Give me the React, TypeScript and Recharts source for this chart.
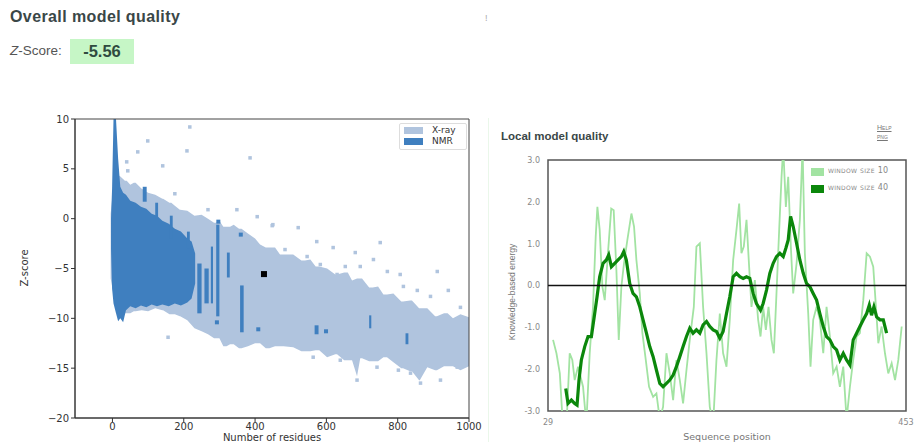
import {
  Area,
  ComposedChart,
  Line,
  ReferenceArea,
  ReferenceLine,
  Scatter,
  XAxis,
  YAxis,
} from 'recharts';

// ---- Z-score plot (left) ----
// X-ray cloud envelope: residues, lower and upper Z-score
const xrayX = [-5, 5, 20, 35, 50, 65, 82, 100, 120, 140, 160, 175, 190, 210, 230, 250, 268, 285, 300, 320, 340, 362, 380, 400, 414, 430, 456, 480, 507, 530, 555, 580, 602, 625, 650, 672, 695, 720, 745, 770, 788, 810, 835, 860, 883, 905, 930, 955, 976, 1000];
const xrayHigh = [0.5, 4.0, 4.3, 3.8, 3.4, 3.6, 3.0, 2.6, 2.4, 2.0, 1.6, 1.3, 0.9, 0.8, 0.3, 0.4, 0.0, -0.4, -0.2, -0.8, -0.6, -1.0, -1.5, -2.0, -2.6, -2.9, -2.9, -3.6, -3.6, -4.2, -4.1, -4.8, -5.0, -5.6, -5.4, -6.2, -6.0, -6.9, -6.8, -7.6, -7.5, -8.3, -8.2, -9.0, -9.0, -9.8, -9.5, -10.0, -9.6, -9.9];
const xrayLowX = [-5, 5, 20, 40, 60, 82, 100, 120, 142, 165, 189, 210, 230, 250, 268, 290, 311, 330, 355, 380, 414, 440, 470, 507, 540, 570, 602, 630, 660, 686, 700, 730, 760, 788, 815, 840, 862, 883, 910, 940, 976, 1000];
const xrayLow = [-6, -8, -9.3, -9.5, -9.3, -9.2, -9.3, -9.0, -9.2, -9.6, -9.8, -10.2, -11.0, -11.3, -11.6, -12.0, -12.8, -12.6, -13.0, -12.8, -12.5, -13.0, -12.8, -12.9, -13.3, -13.2, -13.9, -13.6, -14.2, -15.8, -14.0, -14.3, -13.9, -14.4, -15.0, -15.3, -16.2, -14.9, -15.2, -14.8, -15.2, -14.8];

// NMR dense region envelope
const nmrX = [-4, -1, 3, 10, 16, 22, 30, 38, 50, 65, 80, 95, 110, 125, 140, 158, 175, 192, 210, 222, 232];
const nmrLow = [-3, -7, -8.5, -9.5, -10.3, -10.0, -10.4, -9.2, -8.8, -9.0, -8.7, -8.9, -8.6, -8.8, -8.6, -8.8, -8.5, -8.7, -8.4, -8.0, -6.5];
const nmrHigh = [0, 3, 10, 10, 6, 3.2, 2.6, 2.4, 1.8, 1.6, 1.2, 1.0, 0.5, 0.3, -0.2, -0.5, -1.0, -1.3, -2.0, -2.3, -3.5];

// NMR vertical stripes
const stripeStart = [85, 120, 161, 209, 238, 258, 276, 291, 321, 358, 567, 720, 822];
const stripeEnd = [96, 128, 169, 217, 250, 270, 282, 300, 329, 368, 578, 726, 830];
const stripeLow = [1.7, 0, -2, -3, -9.5, -8.5, -8.5, -9.8, -5.9, -11.4, -11.6, -11.0, -12.6];
const stripeHigh = [3.2, 1.6, 0.3, -1.3, -4.5, -5.0, -2.8, -0.6, -3.4, -6.7, -10.7, -9.7, -11.5];

// scattered single structures
const xrayDotX = [217, 99, 209, 386, 71, 40, 141, 43, 175, 268, 349, 406, 448, 156, 450, 521, 751, 573, 619, 681, 732, 695, 653, 911, 942, 976, 892, 807, 771, 816, 855, 630, 583, 546, 484, 686, 920, 836, 864, 802, 742, 967, 639, 563, 855];
const xrayDotY = [9.2, 7.8, 6.8, 6.1, 6.7, 5.7, 5.3, 4.8, 2.5, 0.9, 0.9, 0.2, -0.7, -11.9, -0.6, -0.9, -2.4, -2.3, -2.9, -3.4, -4.1, -4.8, -4.8, -5.3, -7.2, -8.9, -7.8, -5.6, -5.3, -6.8, -7.2, -5.6, -4.6, -3.8, -3.1, -16.2, -16.2, -15.5, -16.5, -15.2, -14.9, -14.9, -14.2, -13.9, -14.5];
const nmrDotX = [297, 360, 293, 409, 599];
const nmrDotY = [-0.3, -1.6, -10.4, -11.1, -11.3];

const modelResidues = 425;
const modelZScore = -5.56;

const zTicksX = [0, 200, 400, 600, 800, 1000];
const zTicksY = [-20, -15, -10, -5, 0, 5, 10];

// ---- Local model quality (right) ----
const win40X = [50, 52.7, 56.7, 60.6, 63.4, 65.7, 68.5, 72.5, 76.4, 80.4, 84.3, 87.1, 90.2, 94.2, 98.1, 100.9, 104.1, 108, 112, 115.9, 118.7, 121.8, 125.8, 129.7, 133.7, 137.7, 141.6, 145.6, 149.5, 153.5, 157.4, 161.4, 165.3, 169.3, 173.2, 177.2, 181.1, 185.1, 189, 193, 196.9, 200.8, 204.8, 208.8, 212.7, 216.7, 220.6, 224.6, 228.5, 232.5, 236.4, 240.4, 244.3, 248.3, 252.2, 256.2, 260.1, 264.1, 268, 272, 275.9, 280.7, 283.8, 287.8, 291.7, 295.7, 299.6, 303.6, 307.6, 310.7, 313.5, 316.3, 319.4, 323.4, 327.3, 331.3, 335.2, 339.2, 343.1, 347.1, 351, 355, 358.9, 362.9, 366.8, 370.8, 374.7, 378.7, 382.6, 386.6, 390.5, 394.5, 398.4, 402.4, 406.4, 409.5, 412.2, 415, 418.2, 422.1, 426.1, 430];
const win40Y = [-2.46, -2.82, -2.74, -2.82, -2.86, -2.26, -1.78, -1.46, -1.22, -1.22, -0.67, -0.27, 0.21, 0.53, 0.61, 0.73, 0.45, 0.53, 0.61, 0.69, 0.81, 0.61, 0.05, -0.19, -0.27, -0.51, -0.82, -1.14, -1.46, -1.7, -2.02, -2.34, -2.42, -2.34, -2.26, -2.14, -1.94, -1.7, -1.46, -1.22, -1.02, -1.14, -1.06, -1.14, -0.94, -0.86, -0.98, -1.06, -1.1, -1.26, -1.1, -0.67, -0.27, 0.21, 0.29, 0.21, 0.17, 0.21, 0.17, -0.19, -0.43, -0.59, -0.43, -0.11, 0.29, 0.53, 0.69, 0.77, 0.69, 0.89, 1.09, 1.65, 1.41, 1.01, 0.61, 0.29, 0.05, -0.03, -0.19, -0.35, -0.67, -0.98, -1.22, -1.3, -1.46, -1.54, -1.78, -1.62, -1.78, -1.9, -1.3, -1.14, -0.98, -0.82, -0.67, -0.47, -0.71, -0.51, -0.75, -0.82, -0.82, -1.14];
const win10X = [35, 39, 43, 46.8, 51.5, 54.7, 57.8, 60.6, 64.6, 70.5, 74.4, 78.4, 82.3, 85.5, 87.5, 90.2, 93.4, 96.2, 100, 103.9, 106.8, 110, 112.8, 115.9, 119, 123, 127.8, 130.9, 133.7, 137.7, 140.8, 144.8, 148.7, 153.5, 157.4, 161.4, 165.3, 169.3, 173.2, 177.2, 181.1, 185.1, 189, 193, 196.9, 201.7, 204.8, 208.8, 212.7, 216.7, 220.6, 224.6, 228.5, 232.5, 236.4, 240.4, 244.3, 248.3, 252.2, 255.4, 258.1, 260.9, 264.1, 267.2, 270, 274, 277.9, 280.7, 283.8, 287, 290.2, 293.7, 296.5, 299.6, 302.8, 305.6, 307.6, 310.7, 313.5, 316.6, 319.4, 323.4, 327.3, 330.5, 333.2, 337.2, 339.9, 343.1, 347.1, 351, 355, 358.9, 362.9, 366.8, 370.8, 374.7, 378.7, 382.6, 386.6, 390.5, 394.5, 398.4, 402.4, 406.4, 410.3, 414.2, 417.4, 420.2, 424.1, 428.1, 432, 436, 440, 443.9, 447.9];
const win10Y = [-1.3, -1.62, -2.1, -3.4, -3.06, -1.62, -1.78, -2.26, -1.94, -2.42, -3.3, -1.62, -0.51, 1.17, 1.88, 1.33, -0.03, -0.35, 0.77, 1.84, 1.8, 0.37, -1.3, -0.03, 0.53, 1.09, 1.72, 1.41, 0.61, -0.19, -1.14, -1.78, -2.42, -2.66, -2.58, -3.2, -2.9, -1.62, -2.1, -2.74, -1.78, -2.26, -2.82, -2.02, -1.3, -0.51, 0.93, 1.01, -0.51, -1.62, -2.9, -3.3, -1.78, -0.67, -1.62, -1.94, -0.82, 0.61, 1.33, 1.96, 0.77, 0.93, 1.57, 0.45, -0.51, 0.13, -0.82, -1.22, -0.51, -1.06, -0.51, -1.3, -1.62, -0.19, 1.33, 2.6, 3.3, 1.88, 2.6, 0.93, -0.19, 0.53, 1.57, 3.3, 0.77, -0.67, -1.94, -0.82, -0.51, -0.82, -1.62, -0.51, -1.22, -2.1, -1.94, -2.42, -1.94, -3.2, -2.42, -1.78, -1.22, -1.14, -0.35, 0.77, 0.69, 0.45, -0.51, -1.38, -0.98, -1.62, -2.1, -1.86, -2.26, -1.78, -0.98];

const seqTicks = [29, 453];
const energyTicks = [-3, -2, -1, 0, 1, 2, 3];

type Row = { x: number; [key: string]: number | [number, number] };

// upper and lower edges of a cloud are read at different residues,
// so each is looked up at the nearest reading on its own side
function edgeAt(xs: number[], ys: number[], x: number): number {
  let best = 0;
  xs.forEach((v, i) => {
    if (Math.abs(v - x) < Math.abs(xs[best] - x)) best = i;
  });
  return ys[best];
}

function buildCloudTable(): Row[] {
  const rows = new Map<number, Row>();
  const put = (x: number, key: string, v: [number, number]) => {
    const row = rows.get(x) ?? { x };
    row[key] = v;
    rows.set(x, row);
  };
  const xrayAll = [...new Set([...xrayX, ...xrayLowX])].sort((a, b) => a - b);
  xrayAll.forEach((x) => put(x, 'xray', [edgeAt(xrayLowX, xrayLow, x), edgeAt(xrayX, xrayHigh, x)]));
  nmrX.forEach((x, i) => put(x, 'nmr', [nmrLow[i], nmrHigh[i]]));
  stripeStart.forEach((x, i) => {
    put(x, `s${i}`, [stripeLow[i], stripeHigh[i]]);
    put(stripeEnd[i], `s${i}`, [stripeLow[i], stripeHigh[i]]);
  });
  return [...rows.values()].sort((a, b) => a.x - b.x);
}

function buildLineTable(): Row[] {
  const rows = new Map<number, Row>();
  const put = (x: number, key: string, v: number) => {
    const row = rows.get(x) ?? { x };
    row[key] = v;
    rows.set(x, row);
  };
  win10X.forEach((x, i) => put(x, 'w10', win10Y[i]));
  win40X.forEach((x, i) => put(x, 'w40', win40Y[i]));
  return [...rows.values()].sort((a, b) => a.x - b.x);
}

const cloudData = buildCloudTable();
const lineData = buildLineTable();
const xrayDots = xrayDotX.map((x, i) => ({ x, y: xrayDotY[i] }));
const nmrDots = nmrDotX.map((x, i) => ({ x, y: nmrDotY[i] }));
const modelDot = [{ x: modelResidues, y: modelZScore }];

const XRAY = '#b0c4de';
const NMR = '#3f7fbf';
const LIGHT_GREEN = '#a2e3a2';
const DARK_GREEN = '#0b870b';

const mplTick = { fontSize: 10, fill: '#333', fontFamily: 'DejaVu Sans' };
const smallTick = { fontSize: 8, fill: '#888', fontFamily: 'DejaVu Sans' };

const square = (color: string, size: number) => (p: any) => (
  <rect x={p.cx - size / 2} y={p.cy - size / 2} width={size} height={size} fill={color} />
);

const minus = (v: number) => String(v).replace('-', '\u2212');

const abs = (left: number, top: number): React.CSSProperties => ({
  position: 'absolute',
  left,
  top,
  whiteSpace: 'nowrap',
});

export default function App() {
  return (
    <div
      style={{
        position: 'absolute',
        left: 0,
        top: 0,
        width: 915,
        height: 442,
        overflow: 'hidden',
        background: '#fff',
        fontFamily: '"Liberation Sans", Arial, sans-serif',
      }}
    >
      <div style={{ ...abs(10, 8), fontSize: 16, fontWeight: 700, color: '#3a4747', letterSpacing: 0.4 }}>
        Overall model quality
      </div>
      <div style={{ ...abs(10, 43), fontSize: 13.5, color: '#555' }}>
        <i>Z</i>-Score:
      </div>
      <div
        style={{
          ...abs(70, 39),
          width: 64,
          height: 25,
          background: '#c6f6c6',
          textAlign: 'center',
          lineHeight: '25px',
          fontSize: 16.5,
          fontWeight: 700,
          color: '#2f4a3f',
        }}
      >
        -5.56
      </div>
      <div style={{ ...abs(485, 13), fontSize: 9, color: '#aaa' }}>!</div>

      {/* left: Z-score plot */}
      <ComposedChart
        width={492}
        height={342}
        data={cloudData}
        margin={{ top: 19, right: 23, bottom: 4, left: 30 }}
        style={{ position: 'absolute', left: 0, top: 100 }}
      >
        <XAxis
          dataKey="x"
          type="number"
          domain={[-105, 1000]}
          ticks={zTicksX}
          allowDataOverflow
          height={20}
          tickSize={4}
          tickMargin={1}
          tick={mplTick}
          stroke="#333"
        />
        <YAxis
          type="number"
          domain={[-20, 10]}
          ticks={zTicksY}
          allowDataOverflow
          width={45}
          tickSize={4}
          tickMargin={2}
          tick={mplTick}
          tickFormatter={minus}
          stroke="#333"
        />
        <Area dataKey="xray" type="linear" stroke="none" fill={XRAY} fillOpacity={1} connectNulls isAnimationActive={false} />
        <Scatter data={xrayDots} dataKey="y" shape={square(XRAY, 3.5)} isAnimationActive={false} />
        <Area dataKey="nmr" type="linear" stroke="none" fill={NMR} fillOpacity={1} connectNulls isAnimationActive={false} />
        {stripeStart.map((_, i) => (
          <Area
            key={i}
            dataKey={`s${i}`}
            type="linear"
            stroke="none"
            fill={NMR}
            fillOpacity={1}
            connectNulls
            isAnimationActive={false}
          />
        ))}
        <Scatter data={nmrDots} dataKey="y" shape={square(NMR, 4)} isAnimationActive={false} />
        <Scatter data={modelDot} dataKey="y" fill="#000" shape={square('#000', 6)} isAnimationActive={false} />
        <ReferenceArea x1={-105} x2={1000} y1={-20} y2={10} fill="none" stroke="#444" strokeWidth={1} />
      </ComposedChart>
      <div
        style={{
          ...abs(24, 268),
          fontSize: 10,
          fontFamily: 'DejaVu Sans',
          color: '#333',
          transform: 'translate(-50%, -50%) rotate(-90deg)',
        }}
      >
        Z-score
      </div>
      <div
        style={{
          ...abs(272, 432),
          fontSize: 10,
          lineHeight: '11px',
          fontFamily: 'DejaVu Sans',
          color: '#333',
          transform: 'translateX(-50%)',
        }}
      >
        Number of residues
      </div>
      <div
        style={{
          ...abs(399, 123),
          width: 66,
          height: 25,
          border: '1px solid #ddd',
          background: 'rgba(255,255,255,0.85)',
          borderRadius: 2,
          fontSize: 9,
          fontFamily: 'DejaVu Sans',
          color: '#333',
        }}
      >
        <div style={{ position: 'absolute', left: 4, top: 3, width: 19, height: 7, background: XRAY }} />
        <div style={{ position: 'absolute', left: 32, top: 1 }}>X-ray</div>
        <div style={{ position: 'absolute', left: 4, top: 14, width: 19, height: 7, background: NMR }} />
        <div style={{ position: 'absolute', left: 32, top: 12 }}>NMR</div>
      </div>

      {/* right: local model quality */}
      <div style={{ position: 'absolute', left: 488, top: 118, width: 1, height: 324, background: '#eaf7ea' }} />
      <div style={{ ...abs(501, 130), fontSize: 11.5, fontWeight: 700, color: '#3a4747' }}>Local model quality</div>
      <div
        style={{
          ...abs(877, 123),
          fontSize: 7,
          lineHeight: '9px',
          color: '#777',
          fontVariant: 'small-caps',
          textDecoration: 'underline',
        }}
      >
        Help
        <br />
        png
      </div>
      <ComposedChart
        width={425}
        height={292}
        data={lineData}
        margin={{ top: 10, right: 9, bottom: 11, left: 28 }}
        style={{ position: 'absolute', left: 490, top: 150 }}
      >
        <XAxis
          dataKey="x"
          type="number"
          domain={[29, 453]}
          ticks={seqTicks}
          allowDataOverflow
          height={20}
          tickLine={false}
          axisLine={false}
          tick={smallTick}
        />
        <YAxis
          type="number"
          domain={[-3, 3]}
          ticks={energyTicks}
          allowDataOverflow
          width={30}
          tickLine={false}
          axisLine={false}
          tick={smallTick}
          tickFormatter={(v: number) => v.toFixed(1)}
        />
        <Line
          dataKey="w10"
          type="linear"
          stroke={LIGHT_GREEN}
          strokeWidth={1.8}
          dot={false}
          connectNulls
          isAnimationActive={false}
        />
        <Line
          dataKey="w40"
          type="linear"
          stroke={DARK_GREEN}
          strokeWidth={3.2}
          dot={false}
          connectNulls
          isAnimationActive={false}
        />
        <ReferenceLine y={0} stroke="#111" strokeWidth={1.5} />
        <ReferenceArea x1={29} x2={453} y1={-3} y2={3} fill="none" stroke="#555" strokeWidth={1.5} />
      </ComposedChart>
      <div
        style={{
          ...abs(512, 292),
          fontSize: 8.5,
          color: '#777',
          transform: 'translate(-50%, -50%) rotate(-90deg)',
        }}
      >
        Knowledge-based energy
      </div>
      <div style={{ ...abs(727, 431), fontSize: 9.5, fontFamily: 'DejaVu Sans', color: '#777', transform: 'translateX(-50%)' }}>
        Sequence position
      </div>
      <div style={{ position: 'absolute', left: 811, top: 168, width: 13, height: 8, background: LIGHT_GREEN }} />
      <div style={{ ...abs(828, 166), fontSize: 8, fontFamily: 'DejaVu Sans', color: '#888', fontVariant: 'small-caps', letterSpacing: 0.3 }}>
        window size 10
      </div>
      <div style={{ position: 'absolute', left: 811, top: 185, width: 13, height: 8, background: DARK_GREEN }} />
      <div style={{ ...abs(828, 183), fontSize: 8, fontFamily: 'DejaVu Sans', color: '#888', fontVariant: 'small-caps', letterSpacing: 0.3 }}>
        window size 40
      </div>
    </div>
  );
}
